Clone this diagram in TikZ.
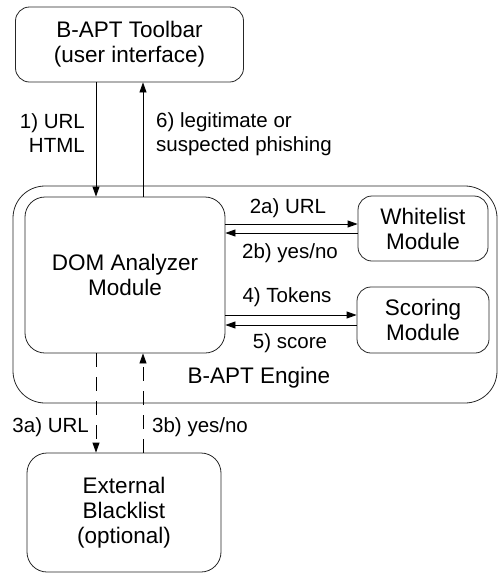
\documentclass[tikz,border=0pt]{standalone}
\usepackage{fontspec}
\setmainfont{Liberation Sans}
\usetikzlibrary{arrows.meta}
\begin{document}
\begin{tikzpicture}[x=1pt,y=-1pt,
  box/.style={draw=black!85,line width=0.8pt,rounded corners=14pt,align=center,
    inner sep=0pt,font=\fontsize{22.5}{25}\selectfont},
  lbl/.style={inner sep=0pt,font=\fontsize{20.5}{24}\selectfont},
  arr/.style={line width=0.8pt,-{Triangle[length=10pt,width=7pt]}},
  dsh/.style={arr,dash pattern=on 14pt off 10pt}]
\useasboundingbox (0,0) rectangle (498,574);

% engine container
\node[box,rounded corners=32pt,minimum width=484pt,minimum height=217pt] (engine) at (255,294.5) {};
\node[inner sep=0pt,font=\fontsize{22.5}{25}\selectfont] (enginelbl) at (259,378) {B-APT Engine};

% modules
\node[box,minimum width=228pt,minimum height=75pt] (toolbar) at (129.5,44.5) {B-APT Toolbar\\(user interface)};
\node[box,rounded corners=20pt,minimum width=200pt,minimum height=156pt] (dom) at (125,275) {DOM Analyzer\\Module};
\node[box,minimum width=130pt,minimum height=65pt] (white) at (423,228.5) {Whitelist\\Module};
\node[box,minimum width=132pt,minimum height=66pt] (score) at (423,320) {Scoring\\Module};
\node[box,rounded corners=20pt,minimum width=194pt,minimum height=119pt] (ext) at (124,512.5) {External\\Blacklist\\(optional)};

% column / row guides
\coordinate (cL) at (96,0);
\coordinate (cR) at (143,0);
\coordinate (r2a) at (0,224);
\coordinate (r2b) at (0,233);
\coordinate (r4) at (0,315);
\coordinate (r5) at (0,325);

% toolbar <-> DOM analyzer
\draw[arr] (toolbar.south -| cL) -- (dom.north -| cL);
\draw[arr] (dom.north -| cR) -- (toolbar.south -| cR);
\node[lbl,anchor=east,align=right] (l1) at (85,133) {1) URL\\HTML};
\node[lbl,anchor=west,align=left] (l6) at (156,134) {6) legitimate or\\suspected phishing};

% DOM analyzer <-> whitelist
\draw[arr] (dom.east |- r2a) -- (white.west |- r2a);
\draw[arr] (white.west |- r2b) -- (dom.east |- r2b);
\node[lbl] (l2a) at (288,208) {2a) URL};
\node[lbl] (l2b) at (290,253) {2b) yes/no};

% DOM analyzer <-> scoring
\draw[arr] (dom.east |- r4) -- (score.west |- r4);
\draw[arr] (score.west |- r5) -- (dom.east |- r5);
\node[lbl] (l4) at (287,297) {4) Tokens};
\node[lbl] (l5) at (290,343) {5) score};

% DOM analyzer <-> external blacklist
\draw[dsh] (dom.south -| cL) -- (ext.north -| cL);
\draw[dsh] (ext.north -| cR) -- (dom.south -| cR);
\node[lbl,anchor=east] (l3a) at (89,427) {3a) URL};
\node[lbl,anchor=west] (l3b) at (152,427) {3b) yes/no};
\end{tikzpicture}
\end{document}
